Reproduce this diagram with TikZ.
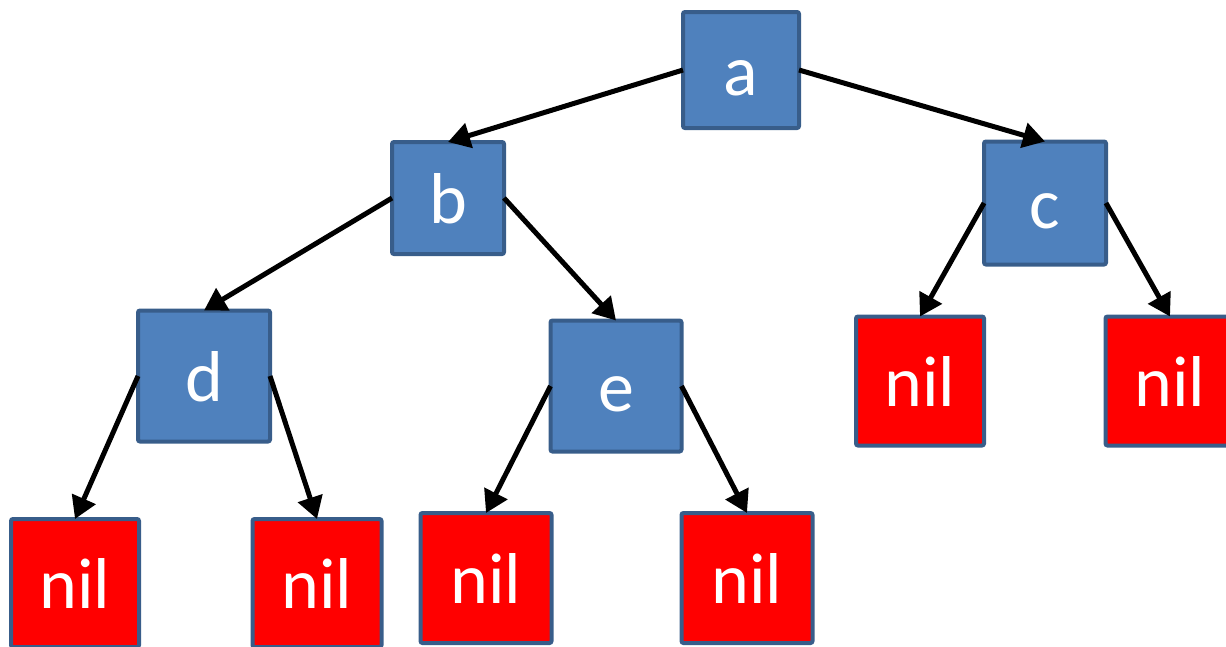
\documentclass[tikz,border=0pt]{standalone}
\usepackage{fontspec}
\setmainfont{Carlito}
\usetikzlibrary{arrows.meta}
\definecolor{boxblue}{HTML}{4F81BD}
\definecolor{boxedge}{HTML}{385D8A}
\definecolor{nilred}{HTML}{FF0000}
\tikzset{
  treebox/.style={draw=boxedge, line width=4pt, rounded corners=2pt, outer sep=0pt, inner sep=0pt,
    text=white, font=\fontsize{72}{86}\selectfont, text height=50pt, text depth=0pt},
  inner/.style={treebox, fill=boxblue},
  nilbox/.style={treebox, fill=nilred},
  link/.style={line width=5pt, -{Triangle[length=22pt,width=25pt]}},
}
\begin{document}
\begin{tikzpicture}[x=1pt,y=-1pt]
\useasboundingbox (0,0) rectangle (1226,646);
\clip (0,0) rectangle (1226,646);
\node[inner, minimum width=116pt, minimum height=116pt] (a) at (741,70) {a};
\node[inner, minimum width=112pt, minimum height=112pt] (b) at (448,198) {b};
\node[inner, minimum width=122pt, minimum height=123pt] (c) at (1045,203) {c};
\node[inner, minimum width=132pt, minimum height=131pt] (d) at (204,376) {d};
\node[inner, minimum width=131pt, minimum height=131pt] (e) at (616,386) {e};
\node[nilbox, minimum width=128pt, minimum height=128pt] (n1) at (75,583) {nil};
\node[nilbox, minimum width=129pt, minimum height=128pt] (n2) at (317,583) {nil};
\node[nilbox, minimum width=131pt, minimum height=130pt] (n3) at (486,578) {nil};
\node[nilbox, minimum width=131pt, minimum height=130pt] (n4) at (747,578) {nil};
\node[nilbox, minimum width=128pt, minimum height=129pt] (n5) at (920,381) {nil};
\node[nilbox, minimum width=129pt, minimum height=129pt] (n6) at (1170,381) {nil};
\draw[link] (a.west) -- (b.north);
\draw[link] (a.east) -- (c.north);
\draw[link] (b.west) -- (d.north);
\draw[link] (b.east) -- (e.north);
\draw[link] (c.west) -- (n5.north);
\draw[link] (c.east) -- (n6.north);
\draw[link] (d.west) -- (n1.north);
\draw[link] (d.east) -- (n2.north);
\draw[link] (e.west) -- (n3.north);
\draw[link] (e.east) -- (n4.north);
\end{tikzpicture}
\end{document}
